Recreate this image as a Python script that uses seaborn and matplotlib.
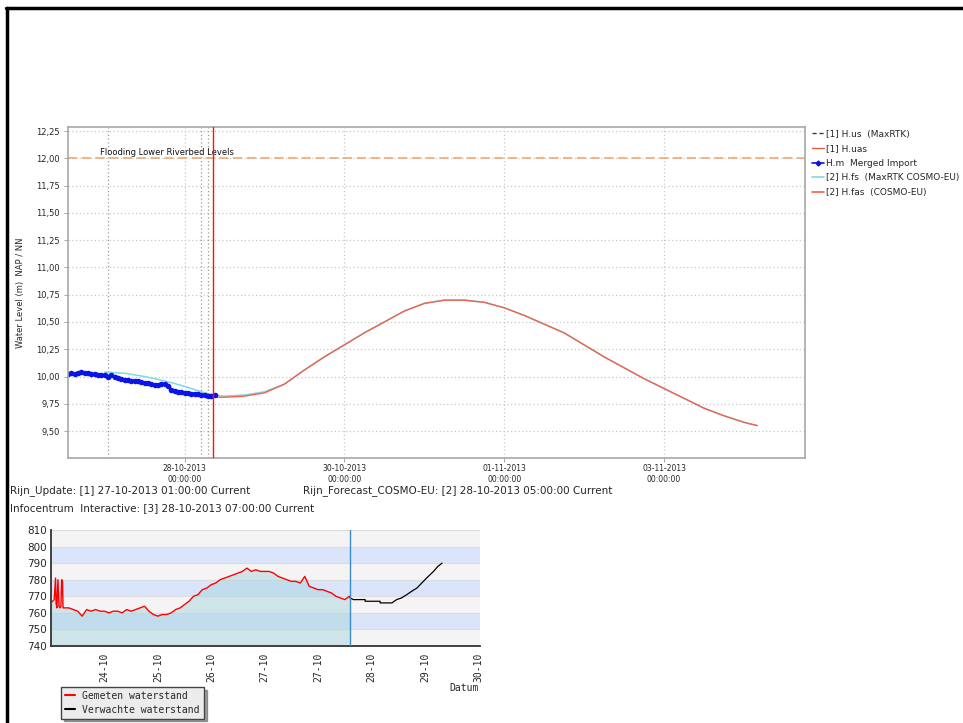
import numpy as np
import pandas as pd
import matplotlib
matplotlib.use("Agg")
import matplotlib.pyplot as plt
from matplotlib.lines import Line2D
import seaborn as sns

# ---- bovenste grafiek: waterstand (m) NAP / NN ----
meas_start = "2013-10-26 13:00"
meas_level = [10.02, 10.03, 10.02, 10.03, 10.04, 10.03, 10.03, 10.02, 10.02, 10.01,
              10.01, 10.01, 10.00, 10.01, 10.00, 9.99, 9.98, 9.97, 9.97, 9.96,
              9.96, 9.96, 9.95, 9.94, 9.94, 9.93, 9.92, 9.92, 9.93, 9.93,
              9.91, 9.88, 9.87, 9.86, 9.86, 9.85, 9.85, 9.84, 9.84, 9.84,
              9.83, 9.83, 9.82, 9.82, 9.83]

fs_time = ["2013-10-27 00:00", "2013-10-27 06:00", "2013-10-27 12:00", "2013-10-27 18:00",
           "2013-10-28 00:00", "2013-10-28 06:00", "2013-10-28 09:00", "2013-10-28 12:00",
           "2013-10-28 18:00", "2013-10-29 00:00"]
fs_level = [10.04, 10.03, 10.00, 9.96, 9.91, 9.85, 9.83, 9.82, 9.83, 9.86]

fas_time = ["2013-10-28 09:00", "2013-10-28 12:00", "2013-10-28 18:00", "2013-10-29 00:00",
            "2013-10-29 06:00", "2013-10-29 12:00", "2013-10-29 18:00", "2013-10-30 00:00",
            "2013-10-30 06:00", "2013-10-30 12:00", "2013-10-30 18:00", "2013-10-31 00:00",
            "2013-10-31 06:00", "2013-10-31 12:00", "2013-10-31 18:00", "2013-11-01 00:00",
            "2013-11-01 06:00", "2013-11-01 12:00", "2013-11-01 18:00", "2013-11-02 00:00",
            "2013-11-02 06:00", "2013-11-02 12:00", "2013-11-02 18:00", "2013-11-03 00:00",
            "2013-11-03 06:00", "2013-11-03 12:00", "2013-11-03 18:00", "2013-11-04 00:00",
            "2013-11-04 04:00"]
fas_level = [9.81, 9.81, 9.82, 9.85, 9.93, 10.06, 10.18, 10.29, 10.40, 10.50,
             10.60, 10.67, 10.70, 10.70, 10.68, 10.63, 10.56, 10.48, 10.40, 10.29,
             10.18, 10.08, 9.98, 9.89, 9.80, 9.71, 9.64, 9.58, 9.55]

flood_level = 12.00
run_times = ["2013-10-27 01:00", "2013-10-28 05:00", "2013-10-28 07:00"]
now_time = "2013-10-28 08:40"
top_ticks = ["2013-10-28", "2013-10-30", "2013-11-01", "2013-11-03"]
top_yticks = [9.50, 9.75, 10.00, 10.25, 10.50, 10.75, 11.00, 11.25, 11.50, 11.75, 12.00, 12.25]

# ---- onderste grafiek: waterstand (cm) ----
spike_day = [0.00, 0.03, 0.06, 0.085, 0.095, 0.11, 0.13, 0.15, 0.17, 0.185, 0.20, 0.215, 0.225, 0.24]
spike_cm = [766, 767, 768, 781, 766, 763, 780, 764, 763, 764, 780, 779, 763, 763]
meas_cm = [763, 763, 762, 761, 758, 762, 761, 762, 761, 761,
           760, 761, 761, 760, 762, 761, 762, 763, 764, 761,
           759, 758, 759, 759, 760, 762, 763, 765, 767, 770,
           771, 774, 775, 777, 778, 780, 781, 782, 783, 784,
           785, 787, 785, 786, 785, 785, 785, 784, 782, 781,
           780, 779, 779, 778, 782, 776, 775, 774, 774, 773,
           772, 770, 769, 768, 770]
fc_day = [5.60, 5.66, 5.88, 5.88, 6.16, 6.16, 6.38, 6.47, 6.56, 6.66, 6.75, 6.85, 6.94, 7.03, 7.16, 7.24, 7.32]
fc_cm = [769, 768, 768, 767, 767, 766, 766, 768, 769, 771, 773, 775, 778, 781, 785, 788, 790]
now_day = 5.60
bot_labels = ["24-10", "25-10", "26-10", "27-10", "27-10", "28-10", "29-10", "30-10"]

W, H = 963, 723
sns.set_style("white")
plt.rcParams["font.family"] = ["DejaVu Sans"]
fig = plt.figure(figsize=(W / 100, H / 100), dpi=100)

def px(x0, y0, x1, y1):
    return [x0 / W, 1 - y1 / H, (x1 - x0) / W, (y1 - y0) / H]

# frame
fig.add_artist(Line2D([6 / W, 1], [1 - 8 / H, 1 - 8 / H], color="black", lw=2.5))
fig.add_artist(Line2D([7 / W, 7 / W], [0, 1 - 8 / H], color="black", lw=2.5))

# ---- top chart ----
ax = fig.add_axes(px(68, 127, 805, 458))
meas = pd.DataFrame({"t": pd.date_range(meas_start, periods=len(meas_level), freq="h"),
                     "v": meas_level})
fs = pd.DataFrame({"t": pd.to_datetime(fs_time + fas_time[4:]),
                   "v": fs_level + fas_level[4:]})
fas = pd.DataFrame({"t": pd.to_datetime(fas_time), "v": fas_level})

ax.axhline(flood_level, color="#f4a264", ls=(0, (6, 3)), lw=1.1, zorder=1)
ax.text(pd.Timestamp("2013-10-26 22:30"), flood_level + 0.01, "Flooding Lower Riverbed Levels",
        fontsize=6, va="bottom", color="#111111")
for t in run_times:
    ax.axvline(pd.Timestamp(t), color="#999999", ls=(0, (1, 2)), lw=0.9, zorder=1)
sns.lineplot(data=fs, x="t", y="v", ax=ax, color="#7fd8e2", lw=1.1, estimator=None, sort=False)
sns.lineplot(data=fas, x="t", y="v", ax=ax, color="#f2614a", lw=1.0, estimator=None, sort=False)
sns.lineplot(data=meas, x="t", y="v", ax=ax, color="#0a14e6", lw=2.2, marker="o",
             markersize=4, markeredgewidth=0, estimator=None, sort=False)
ax.axvline(pd.Timestamp(now_time), color="#ff1010", lw=1.0, zorder=5)

ax.set_xlim(pd.Timestamp("2013-10-26 13:00"), pd.Timestamp("2013-11-04 18:20"))
ax.set_ylim(9.253, 12.287)
ax.set_yticks(top_yticks)
ax.set_yticklabels([f"{v:.2f}".replace(".", ",") for v in top_yticks], fontsize=6)
ax.set_xticks(pd.to_datetime(top_ticks))
ax.set_xticklabels([pd.Timestamp(t).strftime("%d-%m-%Y") + "\n00:00:00" for t in top_ticks],
                   fontsize=5.5, linespacing=1.25)
ax.grid(True, color="#c8c8c8", ls=(0, (1, 2)), lw=0.9)
ax.set_xlabel("")
ax.set_ylabel("Water Level (m)  NAP / NN", fontsize=6)
ax.yaxis.set_label_coords(-43 / 737, 0.5)
ax.tick_params(axis="both", length=3, width=0.6, color="#999999", direction="out",
               left=True, bottom=True)
ax.tick_params(axis="x", pad=1.5)
ax.tick_params(axis="y", pad=3)
for s in ax.spines.values():
    s.set_color("#a8a8a8")
    s.set_linewidth(1.2)

handles = [
    Line2D([], [], color="#2b4a2b", ls=(0, (3, 2)), lw=1.0),
    Line2D([], [], color="#d9663f", lw=1.0),
    Line2D([], [], color="#0a14e6", lw=1.2, marker="D", markersize=2.5),
    Line2D([], [], color="#7fd8e2", lw=1.2),
    Line2D([], [], color="#f2614a", lw=1.2),
]
labels = ["[1] H.us  (MaxRTK)", "[1] H.uas", "H.m  Merged Import",
          "[2] H.fs  (MaxRTK COSMO-EU)", "[2] H.fas  (COSMO-EU)"]
fig.legend(handles, labels, loc="upper left", bbox_to_anchor=(808 / W, 1 - 126 / H),
           frameon=False, fontsize=6.5, handlelength=1.4, handletextpad=0.2,
           labelspacing=0.62, borderaxespad=0)

fig.text(10 / W, 1 - 491 / H, "Rijn_Update: [1] 27-10-2013 01:00:00 Current", fontsize=7.5, va="center")
fig.text(303 / W, 1 - 491 / H, "Rijn_Forecast_COSMO-EU: [2] 28-10-2013 05:00:00 Current",
         fontsize=7.5, va="center")
fig.text(10 / W, 1 - 508 / H, "Infocentrum  Interactive: [3] 28-10-2013 07:00:00 Current",
         fontsize=7.5, va="center")

# ---- bottom chart ----
bx = fig.add_axes(px(51, 530, 480, 646))
for i, lo in enumerate(range(740, 810, 10)):
    bx.axhspan(lo, lo + 10, color="#f4f4f4" if i % 2 == 0 else "#dae4fa", lw=0, zorder=0)
    bx.axhline(lo + 10, color="#dcdcdc", lw=0.8, zorder=0.5)

m_day = spike_day + list(0.25 + np.arange(len(meas_cm)) / 12)
m_cm = spike_cm + meas_cm
m_day = m_day + [now_day]
m_cm = m_cm + [fc_cm[0]]
bot = pd.DataFrame({"d": m_day, "cm": m_cm})
fc = pd.DataFrame({"d": fc_day, "cm": fc_cm})
bx.fill_between(bot["d"], 740, bot["cm"], color="#aad6e0", alpha=0.5, lw=0, zorder=1)
sns.lineplot(data=bot, x="d", y="cm", ax=bx, color="#ff0000", lw=1.0, estimator=None, sort=False, zorder=3)
sns.lineplot(data=fc, x="d", y="cm", ax=bx, color="#000000", lw=0.9, estimator=None, sort=False, zorder=3)
bx.axvline(now_day, color="#3c8cc8", lw=1.0, zorder=4)

bx.set_xlim(0, 8.03)
bx.set_ylim(740, 810)
bx.set_xticks(np.arange(1, 9))
bx.set_xticks(np.arange(0, 8.03, 0.25), minor=True)
bx.set_xticklabels(bot_labels, rotation=90, family="DejaVu Sans Mono", fontsize=7)
bx.set_yticks(range(740, 811, 10))
bx.set_yticks(range(740, 811, 5), minor=True)
bx.set_yticklabels([str(v) for v in range(740, 811, 10)], fontsize=7.5)
bx.tick_params(which="both", direction="in", color="#333333", width=0.8)
bx.tick_params(which="major", length=5, pad=3)
bx.tick_params(which="minor", length=3)
bx.tick_params(axis="x", which="major", pad=5)
bx.set_xlabel("")
bx.set_ylabel("")
for k in ["top", "right"]:
    bx.spines[k].set_visible(False)
for k in ["left", "bottom"]:
    bx.spines[k].set_color("#333333")
    bx.spines[k].set_linewidth(1.3)
fig.text(479 / W, 1 - 688 / H, "Datum", fontsize=7, family="DejaVu Sans Mono", ha="right", va="center")

leg_h = [Line2D([], [], color="#ff0000", lw=1.5), Line2D([], [], color="#000000", lw=1.5)]
lg = fig.legend(leg_h, ["Gemeten waterstand", "Verwachte waterstand"], loc="upper left",
                bbox_to_anchor=(61 / W, 1 - 687 / H), handlelength=1.0,
                handletextpad=0.8, labelspacing=0.4, borderaxespad=0, fancybox=False,
                shadow=True, prop={"family": "DejaVu Sans Mono", "size": 7})
lg.get_frame().set_facecolor("#ececec")
lg.get_frame().set_edgecolor("#444444")
lg.get_frame().set_alpha(1)

fig.savefig("out.png", dpi=100)
